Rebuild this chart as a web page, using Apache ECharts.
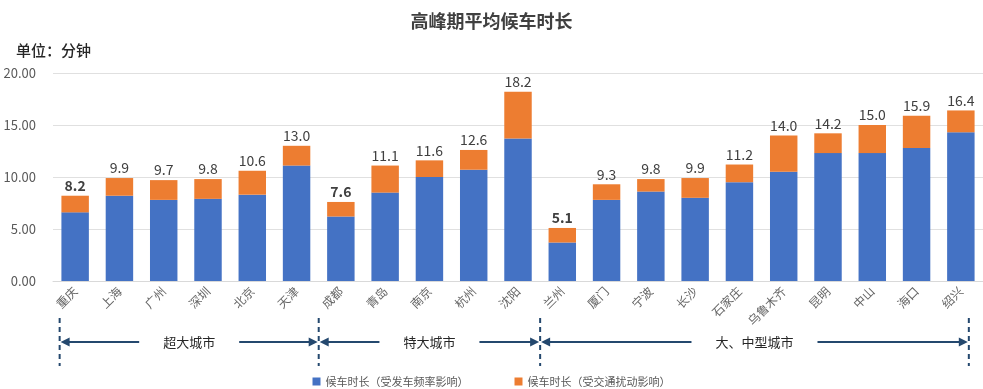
<!DOCTYPE html>
<html><head><meta charset="utf-8">
<script src="https://cdn.jsdelivr.net/npm/echarts@6/dist/echarts.min.js"></script>
<style>html,body{margin:0;padding:0;background:#fff}#c{width:983px;height:389px}</style>
</head><body><div id="c"></div>
<script>
var categories = ['重庆','上海','广州','深圳','北京','天津','成都','青岛','南京','杭州','沈阳','兰州','厦门','宁波','长沙','石家庄','乌鲁木齐','昆明','中山','海口','绍兴'];
var totals = [8.2,9.9,9.7,9.8,10.6,13.0,7.6,11.1,11.6,12.6,18.2,5.1,9.3,9.8,9.9,11.2,14.0,14.2,15.0,15.9,16.4];
var freqPart = [6.6,8.2,7.8,7.9,8.3,11.1,6.2,8.5,10.0,10.7,13.7,3.7,7.8,8.6,8.0,9.5,10.5,12.3,12.3,12.8,14.3];
var seriesNames = ['候车时长（受发车频率影响）','候车时长（受交通扰动影响）'];
var groupNames = ['超大城市','特大城市','大、中型城市'];
var groupStart = [0,6,11];
var groupEnd = [5,10,20];
var yTicks = [0,5,10,15,20];

var trafficPart = totals.map(function(t,i){return Math.round((t-freqPart[i])*10)/10;});
var font = '"Noto Sans CJK SC","Noto Sans",sans-serif';
var chart = echarts.init(document.getElementById('c'));
var orangeData = trafficPart.map(function(v,i){
  var bold = groupStart.indexOf(i) >= 0;
  return {value:v, label:{fontWeight: bold ? 'bold' : 'normal'}};
});
chart.setOption({
  animation:false,
  textStyle:{fontFamily:font},
  title:{text:'高峰期平均候车时长',left:'center',top:7,textStyle:{fontSize:18,fontWeight:'bold',color:'#404040',fontFamily:font}},
  legend:{data:seriesNames,left:'center',top:371,itemWidth:8,itemHeight:8,itemGap:46,icon:'rect',
    textStyle:{fontSize:11,color:'#595959',fontFamily:font}},
  grid:{left:53,right:0,top:73,bottom:108,containLabel:false},
  xAxis:{type:'category',data:categories,
    axisLine:{lineStyle:{color:'#d9d9d9'}},axisTick:{show:false},
    axisLabel:{rotate:45,fontSize:12,color:'#666666',margin:8,interval:0,fontFamily:font}},
  yAxis:{type:'value',min:yTicks[0],max:yTicks[yTicks.length-1],interval:5,
    axisLabel:{formatter:function(v){return v.toFixed(2);},fontSize:13,color:'#595959',margin:17,fontFamily:font},
    splitLine:{lineStyle:{color:'#e0e0e0',width:1}},axisLine:{show:false},axisTick:{show:false}},
  series:[
    {name:seriesNames[0],type:'bar',stack:'a',data:freqPart,barWidth:'62%',itemStyle:{color:'#4472C4'}},
    {name:seriesNames[1],type:'bar',stack:'a',data:orangeData,barWidth:'62%',itemStyle:{color:'#ED7D31'},
      label:{show:true,position:'top',distance:3,fontSize:14,color:'#404040',fontFamily:font,
        formatter:function(p){return totals[p.dataIndex].toFixed(1);}}}
  ]
});

function px(i){return chart.convertToPixel({xAxisIndex:0}, i);}
var band = px(1)-px(0);
var bounds = [px(0)-0.35*band];
for (var g=1; g<groupStart.length; g++) bounds.push((px(groupEnd[g-1])+px(groupStart[g]))/2);
bounds.push(px(20)+0.18*band);
var ay = 342, col = '#24486e';
var gr = [];
bounds.forEach(function(x){
  gr.push({type:'line',shape:{x1:x,y1:318,x2:x,y2:366},style:{stroke:col,lineWidth:2,lineDash:[5,4]}});
});
groupNames.forEach(function(name,g){
  var xL = bounds[g], xR = bounds[g+1];
  var cx = (xL+xR)/2;
  var hw = name.length*13/2;
  var l1 = cx-hw-24, r1 = cx+hw+24;
  gr.push({type:'line',shape:{x1:xL+8,y1:ay,x2:l1,y2:ay},style:{stroke:col,lineWidth:2}});
  gr.push({type:'polygon',shape:{points:[[xL+1,ay],[xL+10,ay-4.5],[xL+10,ay+4.5]]},style:{fill:col}});
  gr.push({type:'line',shape:{x1:r1,y1:ay,x2:xR-8,y2:ay},style:{stroke:col,lineWidth:2}});
  gr.push({type:'polygon',shape:{points:[[xR-1,ay],[xR-10,ay-4.5],[xR-10,ay+4.5]]},style:{fill:col}});
  gr.push({type:'text',x:cx,y:ay,style:{text:name,fill:'#262626',font:'13px '+font,textAlign:'center',textVerticalAlign:'middle'}});
});
gr.push({type:'text',left:16,top:43,style:{text:'单位：分钟',fill:'#262626',font:'500 15px '+font}});
chart.setOption({graphic:gr});
</script>
</body></html>
